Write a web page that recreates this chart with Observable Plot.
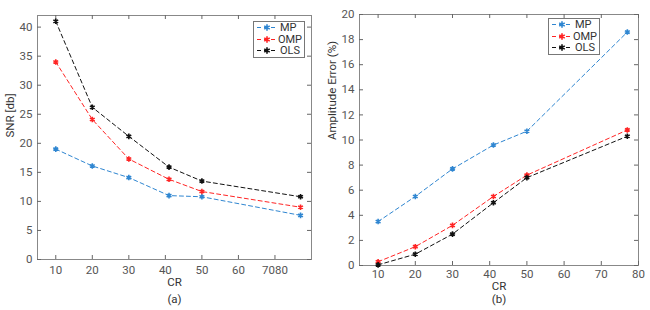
<!DOCTYPE html>
<html>
<head>
<meta charset="utf-8">
<script src="https://cdn.jsdelivr.net/npm/d3@7"></script>
<script src="https://cdn.jsdelivr.net/npm/@observablehq/plot@0.6"></script>
<style>
  html, body { margin: 0; padding: 0; background: #fff; }
  #root { position: relative; width: 650px; height: 310px; overflow: hidden; font-family: Roboto, "Noto Sans", sans-serif; }
  .panel { position: absolute; top: 0; }
  .legend { position: absolute; background: #fff; border: 1px solid #777; font-size: 11px; color: #333; box-sizing: border-box; padding: 0 2px; }
  .legend .row { display: flex; align-items: center; height: 11.6px; line-height: 11px; }
  .legend svg { display: block; margin-right: 2px; }
</style>
</head>
<body>
<div id="root"></div>
<script>
// ---- data ----
const cr = [10, 20, 30, 41, 50, 77];
const seriesNames = ["MP", "OMP", "OLS"];
const seriesColors = ["#2f86d1", "#ff2424", "#111111"];

const snrMP  = [19.0, 16.1, 14.1, 11.0, 10.8, 7.6];
const snrOMP = [34.0, 24.1, 17.3, 13.8, 11.7, 9.0];
const snrOLS = [41.0, 26.2, 21.2, 15.9, 13.5, 10.8];

const errMP  = [3.5, 5.5, 7.7, 9.6, 10.7, 18.6];
const errOMP = [0.3, 1.5, 3.2, 5.5, 7.2, 10.8];
const errOLS = [0.05, 0.9, 2.5, 5.0, 7.0, 10.3];

const xTicksA = [10, 20, 30, 40, 50, 60, 70];
const xTickLabelsA = ["10", "20", "30", "40", "50", "60", "7080"];
const yTicksA = [0, 5, 10, 15, 20, 25, 30, 35, 40];
const xTicksB = [10, 20, 30, 40, 50, 60, 70, 80];
const yTicksB = [0, 2, 4, 6, 8, 10, 12, 14, 16, 18, 20];

function toRows(values) {
  const rows = [];
  values.forEach((vals, si) => vals.forEach((v, i) => rows.push({x: cr[i], y: v, s: seriesNames[si]})));
  return rows;
}

function panel(opts) {
  const {rows, xDomain, yDomain, xTicks, xTickFormat, yTicks, width, height, mL, mR, mT, mB, yLabel, cap, crDy, capDy, yLabelDx, xPad} = opts;
  const innerW = width - mL - mR, innerH = height - mT - mB;
  const tickStroke = "#666";
  const tl = 4;
  return Plot.plot({
    width, height,
    marginLeft: mL, marginRight: mR, marginTop: mT, marginBottom: mB,
    x: {domain: xDomain},
    y: {domain: yDomain},
    color: {domain: seriesNames, range: seriesColors},
    style: {fontFamily: "Roboto, 'Noto Sans', sans-serif", fontSize: "11px", color: "#444", background: "#fff"},
    marks: [
      Plot.frame({stroke: "#888"}),
      Plot.tickX(xTicks, {x: d => d, stroke: tickStroke, insetTop: innerH - tl}),
      Plot.tickX(xTicks, {x: d => d, stroke: tickStroke, insetBottom: innerH - tl}),
      Plot.tickY(yTicks, {y: d => d, stroke: tickStroke, insetRight: innerW - tl}),
      Plot.tickY(yTicks, {y: d => d, stroke: tickStroke, insetLeft: innerW - tl}),
      Plot.axisX(xTicks, {anchor: "bottom", tickSize: 0, tickPadding: xPad, tickFormat: xTickFormat, label: null, fill: "#555", fontSize: 11.5}),
      Plot.axisY(yTicks, {anchor: "left", tickSize: 0, tickPadding: 5, label: null, fill: "#555", fontSize: 11.5}),
      Plot.line(rows, {x: "x", y: "y", z: "s", stroke: "s", strokeWidth: 1, strokeDasharray: "4,3"}),
      Plot.dot(rows, {x: "x", y: "y", stroke: "s", symbol: "asterisk", r: 2.6, strokeWidth: 1.6}),
      Plot.text([yLabel], {frameAnchor: "left", text: d => d, rotate: -90, dx: yLabelDx, lineAnchor: "middle", fill: "#333", fontSize: 11.5}),
      Plot.text(["CR"], {frameAnchor: "bottom", text: d => d, dy: crDy, lineAnchor: "middle", fill: "#333", fontSize: 11.5}),
      Plot.text([cap], {frameAnchor: "bottom", text: d => d, dy: capDy, lineAnchor: "middle", fill: "#333", fontSize: 11.5})
    ]
  });
}

const root = document.getElementById("root");

const a = panel({
  rows: toRows([snrMP, snrOMP, snrOLS]),
  xDomain: [5, 80], yDomain: [0, 42],
  xTicks: xTicksA, xTickFormat: (d, i) => xTickLabelsA[xTicksA.indexOf(d)],
  yTicks: yTicksA,
  width: 325, height: 310, mL: 37, mR: 14, mT: 15, mB: 51,
  yLabel: "SNR [db]", cap: "(a)", crDy: 23, capDy: 40, yLabelDx: -27, xPad: 6
});
a.classList.add("panel");
a.style.left = "0px";
root.appendChild(a);

const b = panel({
  rows: toRows([errMP, errOMP, errOLS]),
  xDomain: [5, 80], yDomain: [0, 20],
  xTicks: xTicksB, xTickFormat: d => String(d),
  yTicks: yTicksB,
  width: 325, height: 310, mL: 34, mR: 12, mT: 14, mB: 45,
  yLabel: "Amplitude Error (%)", cap: "(b)", crDy: 21, capDy: 34, yLabelDx: -27, xPad: 4
});
b.classList.add("panel");
b.style.left = "325px";
root.appendChild(b);

function legend(left, top, w, h) {
  const div = document.createElement("div");
  div.className = "legend";
  Object.assign(div.style, {left: left + "px", top: top + "px", width: w + "px", height: h + "px"});
  seriesNames.forEach((name, i) => {
    const row = document.createElement("div");
    row.className = "row";
    const svg = d3.create("svg").attr("width", 22).attr("height", 11);
    svg.append("line").attr("x1", 1).attr("x2", 21).attr("y1", 5.5).attr("y2", 5.5)
      .attr("stroke", seriesColors[i]).attr("stroke-dasharray", "4,3");
    svg.append("path").attr("transform", "translate(11,5.5)")
      .attr("d", d3.symbol(d3.symbolAsterisk, 28)()).attr("stroke", seriesColors[i]).attr("stroke-width", 1.6).attr("fill", "none");
    row.appendChild(svg.node());
    const t = document.createElement("span");
    t.textContent = name;
    row.appendChild(t);
    div.appendChild(row);
  });
  root.appendChild(div);
}
legend(253, 21, 52, 37);
legend(548, 18, 52, 37);
</script>
</body>
</html>
